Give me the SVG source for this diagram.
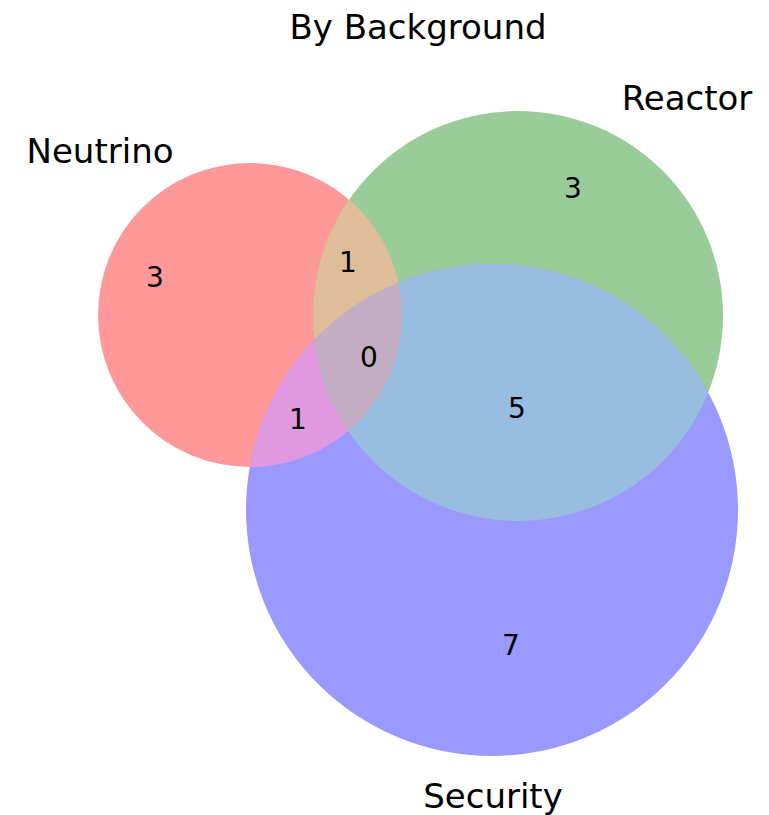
<svg xmlns="http://www.w3.org/2000/svg" width="769" height="815" viewBox="0 0 769 815">
<style>
text{font-family:"DejaVu Sans","Liberation Sans",sans-serif;fill:#000;text-anchor:middle}
.lbl{font-size:34px}
.num{font-size:28px}
</style>
<defs>
<clipPath id="cR"><circle cx="250" cy="315" r="152"/></clipPath>
<clipPath id="cG"><circle cx="518" cy="316" r="205"/></clipPath>
</defs>
<rect width="769" height="815" fill="#fff"/>
<text class="lbl" x="418" y="39">By Background</text>
<g id="neutrino">
<circle cx="250" cy="315" r="152" fill="#FF9999"/>
<text class="lbl" x="100" y="163">Neutrino</text>
</g>
<g id="reactor">
<circle cx="518" cy="316" r="205" fill="#99CC99"/>
<text class="lbl" x="687" y="110">Reactor</text>
</g>
<g id="security">
<circle cx="492" cy="510" r="246" fill="#9999FF"/>
<text class="lbl" x="493" y="808">Security</text>
</g>
<g id="overlaps">
<circle cx="518" cy="316" r="205" fill="#E0BD99" clip-path="url(#cR)"/>
<circle cx="492" cy="510" r="246" fill="#E099E0" clip-path="url(#cR)"/>
<circle cx="492" cy="510" r="246" fill="#99BDE0" clip-path="url(#cG)"/>
<g clip-path="url(#cR)"><circle cx="492" cy="510" r="246" fill="#C2ADC2" clip-path="url(#cG)"/></g>
</g>
<g id="counts">
<text class="num" x="155" y="287">3</text>
<text class="num" x="348" y="272">1</text>
<text class="num" x="369" y="367">0</text>
<text class="num" x="298" y="429">1</text>
<text class="num" x="517" y="418">5</text>
<text class="num" x="511" y="655">7</text>
<text class="num" x="573" y="198">3</text>
</g>
</svg>
